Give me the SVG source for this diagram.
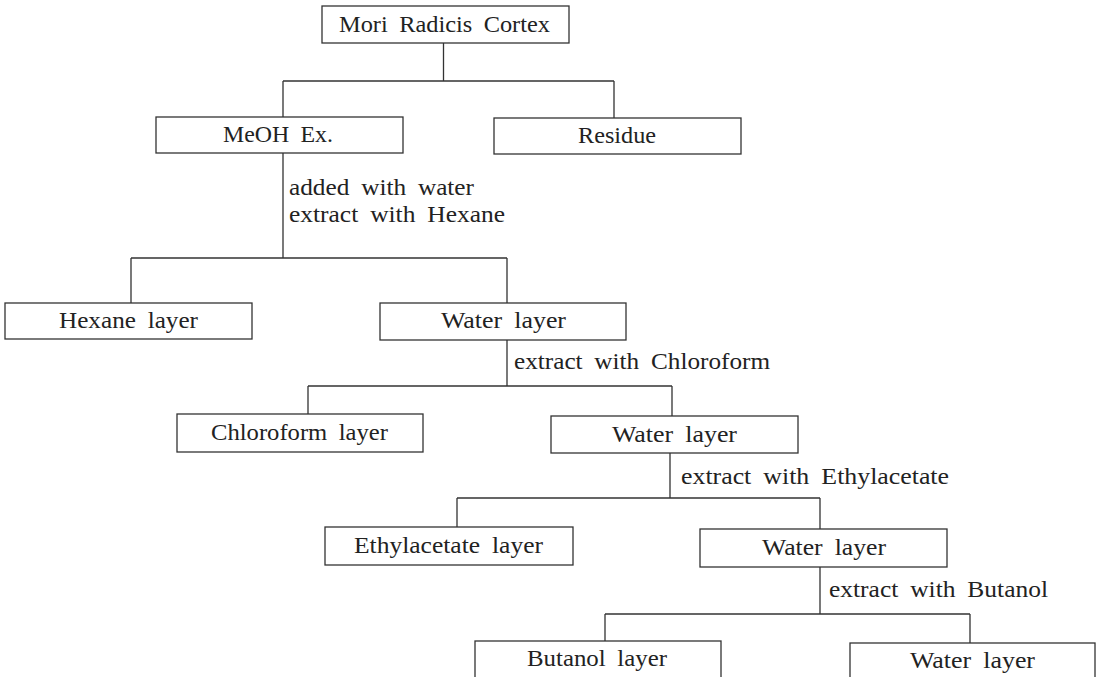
<svg xmlns="http://www.w3.org/2000/svg" width="1096" height="677" viewBox="0 0 1096 677">
<style>
.b{fill:#fff;stroke:#333;stroke-width:1.3}
.c{fill:none;stroke:#333;stroke-width:1.3}
text{font-family:"Liberation Serif","DejaVu Serif",serif;font-size:23px;word-spacing:5px;fill:#222}
</style>
<rect width="1096" height="677" fill="#fff"/>
<g id="connectors">
<path class="c" d="M443.5 43V81M283 81H614M283 81V117M614 81V118"/>
<path class="c" d="M283 153V258M131 258H507M131 258V303M507 258V303"/>
<path class="c" d="M507 340V386M308 386H672M308 386V414M672 386V416"/>
<path class="c" d="M670 453V498M457 498H820M457 498V527M820 498V529"/>
<path class="c" d="M820 567V614M605 614H970M605 614V641M970 614V643"/>
<text x="289" y="195" textLength="185" lengthAdjust="spacingAndGlyphs">added with water</text>
<text x="289" y="222" textLength="216" lengthAdjust="spacingAndGlyphs">extract with Hexane</text>
<text x="514" y="369" textLength="256" lengthAdjust="spacingAndGlyphs">extract with Chloroform</text>
<text x="681" y="484" textLength="268" lengthAdjust="spacingAndGlyphs">extract with Ethylacetate</text>
<text x="829" y="597" textLength="219" lengthAdjust="spacingAndGlyphs">extract with Butanol</text>
</g>
<g id="n-mori"><rect class="b" x="322" y="6" width="247" height="37"/><text x="339" y="32" textLength="211" lengthAdjust="spacingAndGlyphs">Mori Radicis Cortex</text></g>
<g id="n-meoh"><rect class="b" x="156" y="117" width="247" height="36"/><text x="223" y="142" textLength="110" lengthAdjust="spacingAndGlyphs">MeOH Ex.</text></g>
<g id="n-residue"><rect class="b" x="494" y="118" width="247" height="36"/><text x="578" y="143" textLength="78" lengthAdjust="spacingAndGlyphs">Residue</text></g>
<g id="n-hexane"><rect class="b" x="5" y="303" width="247" height="36"/><text x="59" y="328" textLength="139" lengthAdjust="spacingAndGlyphs">Hexane layer</text></g>
<g id="n-water1"><rect class="b" x="380" y="303" width="246" height="37"/><text x="441" y="328" textLength="125" lengthAdjust="spacingAndGlyphs">Water layer</text></g>
<g id="n-chloroform"><rect class="b" x="177" y="414" width="246" height="38"/><text x="211" y="440" textLength="177" lengthAdjust="spacingAndGlyphs">Chloroform layer</text></g>
<g id="n-water2"><rect class="b" x="551" y="416" width="247" height="37"/><text x="612" y="442" textLength="125" lengthAdjust="spacingAndGlyphs">Water layer</text></g>
<g id="n-ethyl"><rect class="b" x="325" y="527" width="248" height="38"/><text x="354" y="553" textLength="189" lengthAdjust="spacingAndGlyphs">Ethylacetate layer</text></g>
<g id="n-water3"><rect class="b" x="700" y="529" width="247" height="38"/><text x="762" y="555" textLength="124" lengthAdjust="spacingAndGlyphs">Water layer</text></g>
<g id="n-butanol"><rect class="b" x="475" y="641" width="246" height="38"/><text x="527" y="666" textLength="140" lengthAdjust="spacingAndGlyphs">Butanol layer</text></g>
<g id="n-water4"><rect class="b" x="850" y="643" width="245" height="38"/><text x="910" y="668" textLength="125" lengthAdjust="spacingAndGlyphs">Water layer</text></g>
</svg>
